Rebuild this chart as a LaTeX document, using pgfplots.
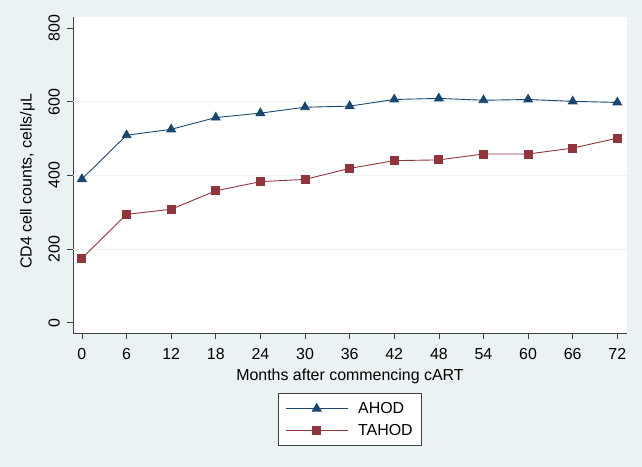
\documentclass[border=0pt]{standalone}
\usepackage{pgfplots}
\pgfplotsset{compat=1.18}
\usepackage{fontspec}
\setmainfont{Liberation Sans}
\usetikzlibrary{backgrounds}
\definecolor{bgcol}{HTML}{EAF2F3}
\definecolor{navy}{HTML}{1A476F}
\definecolor{maroon}{HTML}{90353B}
\definecolor{axgray}{HTML}{404040}
\pgfplotstableread{
m ahod tahod
0 390 175
6 509 294
12 525 308
18 557 358
24 569 383
30 585 389
36 588 419
42 606 440
48 609 442
54 604 458
60 606 458
66 601 474
72 598 501
}\datatab
\begin{document}
\begin{tikzpicture}[x=1bp,y=1bp]
\begin{axis}[
  at={(0,0)}, anchor=south west,
  scale only axis, width=554bp, height=316bp,
  xmin=-1.2, xmax=73.3, ymin=-28, ymax=830,
  xtick={0,6,...,72}, ytick={0,200,...,800},
  axis x line*=bottom, axis y line*=left,
  axis line style={axgray, line width=0.7pt, -},
  tick align=outside, major tick length=6bp,
  tick style={axgray, line width=0.7pt},
  xtick pos=bottom, ytick pos=left,
  font=\fontsize{16}{19}\selectfont,
  /pgf/number format/assume math mode=true,
  yticklabel style={rotate=90, anchor=south, inner sep=0pt, yshift=7bp},
  xticklabel style={anchor=north, inner sep=0pt, yshift=-9bp},
  extra y ticks={200,400,600}, extra y tick labels={},
  extra y tick style={ymajorgrids=true, major tick length=0pt, grid style={bgcol, line width=0.8pt}},
  xlabel={Months after commencing cART},
  ylabel={CD4 cell counts, cells/μL},
  xlabel style={at={(axis description cs:0.5,0)}, anchor=north, yshift=-36bp, inner sep=0pt},
  ylabel style={at={(axis description cs:0,0.48)}, anchor=south, yshift=38bp, inner sep=0pt},
  axis background/.style={fill=white},
  legend style={at={(axis description cs:0.5,0)}, anchor=north, yshift=-60bp,
    draw=axgray, line width=0.6pt, fill=white, font=\fontsize{16}{19}\selectfont,
    inner xsep=7bp, inner ysep=7bp, row sep=5bp, column sep=8bp, cells={anchor=west}},
  legend image code/.code={\draw[mark repeat=2, mark phase=2] plot coordinates {(0bp,0bp) (31bp,0bp) (62bp,0bp)};},
]
\addplot[navy, line width=0.9pt, mark=triangle*, mark size=5bp, mark options={solid}] table[x=m, y=ahod] {\datatab};
\addlegendentry{AHOD}
\addplot[maroon, line width=0.9pt, mark=square*, mark size=4bp, mark options={solid}] table[x=m, y=tahod] {\datatab};
\addlegendentry{TAHOD}
\end{axis}
\begin{scope}[on background layer]
\fill[bgcol] (-73bp,-134bp) rectangle (569bp,333bp);
\end{scope}
\end{tikzpicture}
\end{document}
